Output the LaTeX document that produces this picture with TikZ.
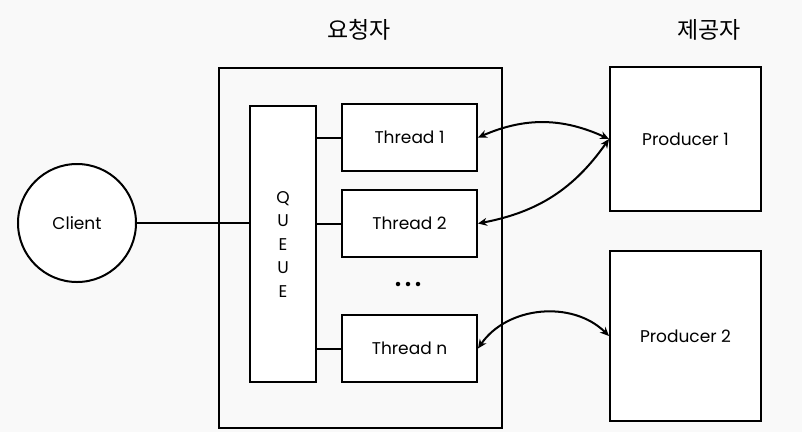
\documentclass[tikz,border=0pt]{standalone}
\usepackage{fontspec}
\setmainfont{Poppins}
\newfontfamily\krfont{Noto Sans CJK KR}
\usetikzlibrary{arrows.meta}
\definecolor{bg}{HTML}{F9F9F9}
\begin{document}
\begin{tikzpicture}[x=1pt,y=-1pt,
  box/.style={draw=black,line width=2pt,fill=white,inner sep=0pt},
  lbl/.style={font=\fontsize{17}{20}\selectfont},
  conn/.style={line width=2pt},
  dot/.style={circle,fill=black,inner sep=0pt,minimum size=4.5pt},
  arr/.style={line width=2pt,{Stealth[length=9pt,width=8pt]}-{Stealth[length=9pt,width=8pt]}}]
\fill[bg] (0,0) rectangle (802,432);
\useasboundingbox (0,0) rectangle (802,432);
% outer requester box
\node[box,fill=none,minimum width=283pt,minimum height=360pt,anchor=north west] (req) at (218,67) {};
\node[font=\krfont\fontsize{23}{26}\selectfont] (reqlbl) at (359,30) {요청자};
\node[font=\krfont\fontsize{23}{26}\selectfont] (prolbl) at (709,30) {제공자};
% queue
\node[box,minimum width=66pt,minimum height=276pt,anchor=north west,align=center,font=\fontsize{17}{23.5}\selectfont] (queue) at (249,105) {Q\\U\\E\\U\\E};
% threads
\node[box,lbl,minimum width=135pt,minimum height=67pt,anchor=north west] (t1) at (341,103) {Thread 1};
\node[box,lbl,minimum width=135pt,minimum height=67pt,anchor=north west] (t2) at (341,189) {Thread 2};
\node[box,lbl,minimum width=135pt,minimum height=67pt,anchor=north west] (tn) at (341,314) {Thread n};
\node[dot] (d1) at (398,284) {};
\node[dot] (d2) at (408,284) {};
\node[dot] (d3) at (418,284) {};
% producers
\node[box,lbl,minimum width=151pt,minimum height=144pt,anchor=north west] (p1) at (609,66) {Producer 1};
\node[box,lbl,minimum width=151pt,minimum height=170pt,anchor=north west] (p2) at (609,250) {Producer 2};
% client
\node[box,circle,lbl,minimum size=118pt] (client) at (77,223) {Client};
% connectors
\draw[conn] (client.east) -- (client.east -| queue.west);
\draw[conn] (queue.east |- t1.west) -- (t1.west);
\draw[conn] (queue.east |- t2.west) -- (t2.west);
\draw[conn] (queue.east |- tn.west) -- (tn.west);
\draw[arr] (t1.east) to[bend left=24] (p1.west);
\draw[arr] (t2.east) to[bend right=22] (p1.west);
\draw[arr] (tn.east) to[bend left=50] (p2.west);
\end{tikzpicture}
\end{document}
